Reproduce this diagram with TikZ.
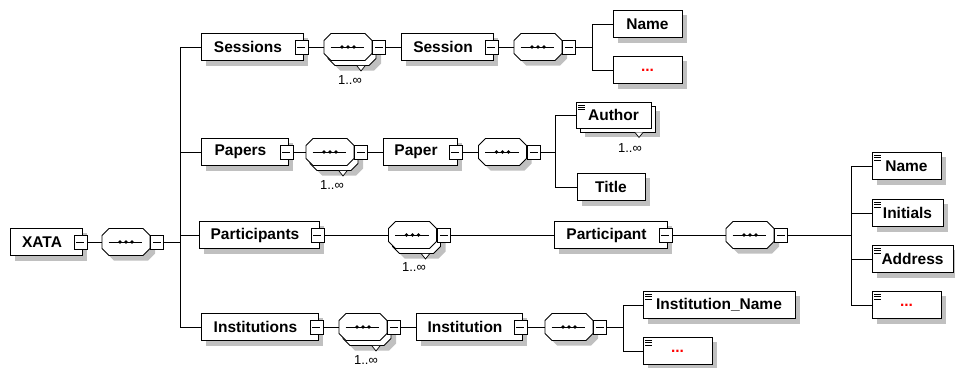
\documentclass[tikz,border=0pt]{standalone}
\usepackage{fontspec}
\setmainfont{Liberation Sans}
\usetikzlibrary{positioning,backgrounds}
\definecolor{shadowgray}{RGB}{192,192,192}

% sequence compositor: octagon round a point, and its dotted line
\newcommand{\octpath}[1]{#1 ++(-17,-13.5) -- ++(34,0) -- ++(7,7) -- ++(0,13)
  -- ++(-7,7) -- ++(-34,0) -- ++(-7,-7) -- ++(0,-13) -- cycle}
\newcommand{\seqdots}[1]{%
  \draw ([xshift=7pt]#1.west) -- ([xshift=-8pt]#1.east);
  \foreach \dx in {-6,0,6}
    \fill ([xshift=\dx pt]#1.center) circle (1.8pt);}

\begin{document}
\begin{tikzpicture}[
  x=1pt, y=-1pt,
  line width=0.9pt,
  every node/.style={font=\fontsize{15.5}{18}\selectfont\bfseries},
  shd/.style={fill=shadowgray, draw=none},
  elem/.style={draw, fill=white, minimum height=27, inner sep=0},
  exp/.style={elem, execute at end node={\hspace{8pt}}},
  leaf/.style={elem, path picture={
    \draw[line width=0.7pt] ([xshift=2pt,yshift=-3pt]path picture bounding box.north west) -- ++(7,0)
      ++(-7,2.2) -- ++(7,0) ++(-7,2.2) -- ++(7,0);}},
  minusbtn/.style={draw, fill=white, minimum width=13, minimum height=14, inner sep=0,
    path picture={\draw ([xshift=2.5pt]path picture bounding box.west) -- ([xshift=-2.5pt]path picture bounding box.east);}},
  seq/.style={minimum width=48, minimum height=27, inner sep=0},
  octo/.style={draw, fill=white},
  tri/.style={draw, fill=white, line width=0.7pt},
  occ/.style={font=\fontsize{13}{15}\selectfont},
  more/.style={text=red}
]
\useasboundingbox (0,0) rectangle (955,367);

% root
\node[exp, minimum width=72] (xata) at (46,242) {XATA};
\node[minusbtn] (xataM) at ([xshift=-2pt]xata.east) {};
\node[seq] (rootSeq) at (126,242) {};
\draw[octo] \octpath{(rootSeq.center)}; \seqdots{rootSeq}
\node[minusbtn, right=0pt of rootSeq] (rootSeqM) {};
\coordinate (rootBr) at (180,242);

% sessions
\node[exp, minimum width=102] (sessions) at (252,47) {Sessions};
\node[minusbtn] (sessionsM) at ([xshift=-2pt]sessions.east) {};
\node[seq] (sessSeqB) at (352,52) {};
\draw[octo] \octpath{(sessSeqB.center)};
\draw[tri] ([xshift=5pt]sessSeqB.south) -- ++(4,5) -- ++(4,-5);
\node[seq] (sessSeq) at (348,47) {};
\draw[octo] \octpath{(sessSeq.center)}; \seqdots{sessSeq}
\node[minusbtn, right=0pt of sessSeq] (sessSeqM) {};
\node[occ] (sessOcc) at (350,80) {1..∞};
\node[exp, minimum width=92] (session) at (447,47) {Session};
\node[minusbtn] (sessionM) at ([xshift=-2pt]session.east) {};
\node[seq] (sessSeq2) at (538,47) {};
\draw[octo] \octpath{(sessSeq2.center)}; \seqdots{sessSeq2}
\node[minusbtn, right=0pt of sessSeq2] (sessSeq2M) {};
\coordinate (sessBr) at (592,47);
\node[elem, minimum width=69] (sessName) at (647.5,24) {Name};
\node[elem, minimum width=69, more] (sessMore) at (647.5,70) {...};

% papers
\node[exp, minimum width=87] (papers) at (244.5,152) {Papers};
\node[minusbtn] (papersM) at ([xshift=-2pt]papers.east) {};
\node[seq] (papSeqB) at (334,157) {};
\draw[octo] \octpath{(papSeqB.center)};
\draw[tri] ([xshift=5pt]papSeqB.south) -- ++(4,5) -- ++(4,-5);
\node[seq] (papSeq) at (330,152) {};
\draw[octo] \octpath{(papSeq.center)}; \seqdots{papSeq}
\node[minusbtn, right=0pt of papSeq] (papSeqM) {};
\node[occ] (papOcc) at (332,185) {1..∞};
\node[exp, minimum width=74] (paper) at (420,152) {Paper};
\node[minusbtn] (paperM) at ([xshift=-2pt]paper.east) {};
\node[seq] (papSeq2) at (502.5,152) {};
\draw[octo] \octpath{(papSeq2.center)}; \seqdots{papSeq2}
\node[minusbtn, right=0pt of papSeq2] (papSeq2M) {};
\coordinate (papBr) at (555,152);
\node[elem, minimum width=75, minimum height=26] (authorB) at (617.5,119) {};
\draw[tri] ([xshift=17.5pt]authorB.south) -- ++(4,5) -- ++(4,-5);
\node[leaf, minimum width=75, minimum height=26] (author) at (613.5,115) {Author};
\node[occ] (authorOcc) at (630,148) {1..∞};
\node[elem, minimum width=68] (title) at (611,187) {Title};

% participants
\node[exp, minimum width=120] (participants) at (259,235) {Participants};
\node[minusbtn] (participantsM) at ([xshift=-2pt]participants.east) {};
\node[seq] (partSeqB) at (416.5,240) {};
\draw[octo] \octpath{(partSeqB.center)};
\draw[tri] ([xshift=5pt]partSeqB.south) -- ++(4,5) -- ++(4,-5);
\node[seq] (partSeq) at (412.5,235) {};
\draw[octo] \octpath{(partSeq.center)}; \seqdots{partSeq}
\node[minusbtn, right=0pt of partSeq] (partSeqM) {};
\node[occ] (partOcc) at (414,267) {1..∞};
\node[exp, minimum width=113] (participant) at (610.5,235) {Participant};
\node[minusbtn] (participantM) at ([xshift=-2pt]participant.east) {};
\node[seq] (partSeq2) at (750,235) {};
\draw[octo] \octpath{(partSeq2.center)}; \seqdots{partSeq2}
\node[minusbtn, right=0pt of partSeq2] (partSeq2M) {};
\coordinate (partBr) at (851,235);
\node[leaf, minimum width=69] (pName) at (906.5,166) {Name};
\node[leaf, minimum width=71] (pInitials) at (907.5,213) {Initials};
\node[leaf, minimum width=81] (pAddress) at (912.5,259) {Address};
\node[leaf, minimum width=69, more] (pMore) at (906.5,305) {...};

% institutions
\node[exp, minimum width=117] (institutions) at (259.5,327) {Institutions};
\node[minusbtn] (institutionsM) at ([xshift=-2pt]institutions.east) {};
\node[seq] (instSeqB) at (367,332) {};
\draw[octo] \octpath{(instSeqB.center)};
\draw[tri] ([xshift=5pt]instSeqB.south) -- ++(4,5) -- ++(4,-5);
\node[seq] (instSeq) at (363,327) {};
\draw[octo] \octpath{(instSeq.center)}; \seqdots{instSeq}
\node[minusbtn, right=0pt of instSeq] (instSeqM) {};
\node[occ] (instOcc) at (366,360) {1..∞};
\node[exp, minimum width=106] (institution) at (469,327) {Institution};
\node[minusbtn] (institutionM) at ([xshift=-2pt]institution.east) {};
\node[seq] (instSeq2) at (569,327) {};
\draw[octo] \octpath{(instSeq2.center)}; \seqdots{instSeq2}
\node[minusbtn, right=0pt of instSeq2] (instSeq2M) {};
\coordinate (instBr) at (623,327);
\node[leaf, minimum width=152] (instName) at (719,305) {Institution\_Name};
\node[leaf, minimum width=69, more] (instMore) at (677.5,351) {...};

% connectors
\draw (xataM) -- (rootSeq);
\draw (rootSeqM) -- (rootBr);
\foreach \c in {sessions,papers,participants,institutions}
  \draw (rootBr) |- (\c);
\draw (sessionsM) -- (sessSeq);
\draw (sessSeqM) -- (session);
\draw (sessionM) -- (sessSeq2);
\draw (sessSeq2M) -- (sessBr);
\draw (sessBr) |- (sessName);
\draw (sessBr) |- (sessMore);
\draw (papersM) -- (papSeq);
\draw (papSeqM) -- (paper);
\draw (paperM) -- (papSeq2);
\draw (papSeq2M) -- (papBr);
\draw (papBr) |- (author);
\draw (papBr) |- (title);
\draw (participantsM) -- (partSeq);
\draw (partSeqM) -- (participant);
\draw (participantM) -- (partSeq2);
\draw (partSeq2M) -- (partBr);
\foreach \c in {pName,pInitials,pAddress,pMore}
  \draw (partBr) |- (\c);
\draw (institutionsM) -- (instSeq);
\draw (instSeqM) -- (institution);
\draw (institutionM) -- (instSeq2);
\draw (instSeq2M) -- (instBr);
\draw (instBr) |- (instName);
\draw (instBr) |- (instMore);

% shadows
\begin{scope}[on background layer]
  \foreach \n in {xata,sessions,session,sessName,sessMore,papers,paper,authorB,title,
      participants,participant,pName,pInitials,pAddress,pMore,
      institutions,institution,instName,instMore}
    \fill[shd] ([xshift=5pt,yshift=-5pt]\n.south west) rectangle ([xshift=5pt,yshift=-5pt]\n.north east);
  \foreach \n in {rootSeq,sessSeqB,sessSeq2,papSeqB,papSeq2,partSeqB,partSeq2,instSeqB,instSeq2}
    \fill[shd] \octpath{([xshift=5pt,yshift=-5pt]\n.center)};
\end{scope}
\end{tikzpicture}
\end{document}
